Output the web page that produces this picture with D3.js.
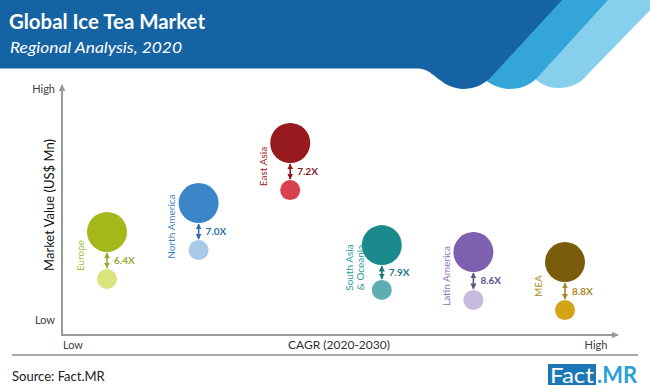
<!DOCTYPE html>
<html>
<head>
<meta charset="utf-8">
<script src="https://cdn.jsdelivr.net/npm/d3@7"></script>
<style>
  html, body { margin: 0; padding: 0; background: #fff; }
  svg { display: block; font-family: Lato, "Open Sans", sans-serif; }
</style>
</head>
<body>
<svg id="chart" width="650" height="389"></svg>
<script>
// ---------- data ----------
const regions = ["Europe", "North America", "East Asia", "South Asia & Oceania", "Latin America", "MEA"];
const regionLabelLines = [["Europe"], ["North America"], ["East Asia"], ["South Asia", "& Oceania"], ["Latin America"], ["MEA"]];
const marketIndex2030 = [41.0, 52.6, 76.7, 35.7, 32.9, 28.9];   // position on Low–High market value axis
const marketIndex2020 = [22.1, 33.7, 57.8, 17.7, 13.7, 9.6];
const growthLabels = ["6.4X", "7.0X", "7.2X", "7.9X", "8.6X", "8.8X"];
const yAxisLabels = ["Low", "High"];
const xAxisLabels = ["Low", "High"];

// ---------- styles ----------
const bigColors   = ["#a5b81b", "#3b86c9", "#971a1e", "#1a8a8c", "#7d60b0", "#7a5c0c"];
const smallColors = ["#dbe47c", "#a9c9e8", "#d9424d", "#5eadb3", "#c6badf", "#d4a416"];
const labelColors = ["#a9bb3b", "#3f82c2", "#9a1d25", "#2a9a9e", "#8a70b8", "#b08b1c"];
const growthColors= ["#9aa82e", "#2f6ea6", "#8b1a1f", "#17797f", "#5e5186", "#a8871f"];

const svg = d3.select("#chart");

// ---------- header ----------
svg.append("path")
  .attr("d", "M605,0 H660 L588,74 C580,84 570,88 558,88 C546,88 538,82 532,76 Z")
  .attr("fill", "#86d0ee");
svg.append("path")
  .attr("d", "M608,0 L537,78 C529,86 520,89 508,89 C494,88 484,80 474,70 L540,0 Z")
  .attr("fill", "#34a5d8");
svg.append("path")
  .attr("d", "M0,0 H562 L492,76 C484,85 474,89 462,89 C448,88 440,80 432,74 C427,70 423,68.5 416,68.5 H0 Z")
  .attr("fill", "#1563a3");

svg.append("text")
  .attr("x", 9).attr("y", 29)
  .attr("fill", "#fff").attr("font-weight", 700).attr("font-size", 20)
  .attr("textLength", 196).attr("lengthAdjust", "spacingAndGlyphs")
  .text("Global Ice Tea Market");
svg.append("text")
  .attr("x", 10).attr("y", 53)
  .attr("fill", "#fff").attr("font-style", "italic").attr("font-size", 16)
  .attr("textLength", 172).attr("lengthAdjust", "spacingAndGlyphs")
  .text("Regional Analysis, 2020");

// ---------- scales ----------
const x = d3.scalePoint().domain(regions).range([107, 565]);
const y = d3.scaleLinear().domain([0, 100]).range([334, 85]);

// ---------- axes ----------
const axisColor = "#9a9a9a";
const defs = svg.append("defs");
defs.append("marker").attr("id", "axArrow")
  .attr("viewBox", "0 0 10 10").attr("refX", 9).attr("refY", 5)
  .attr("markerWidth", 7).attr("markerHeight", 7).attr("markerUnits", "userSpaceOnUse")
  .attr("orient", "auto")
  .append("path").attr("d", "M0,0 L10,5 L0,10 Z").attr("fill", axisColor);

const x0 = 62, yBase = 335;
svg.append("line").attr("x1", x0).attr("y1", yBase).attr("x2", x0).attr("y2", y(100))
  .attr("stroke", axisColor).attr("stroke-width", 2).attr("marker-end", "url(#axArrow)");
svg.append("line").attr("x1", x0 - 1).attr("y1", yBase).attr("x2", 618).attr("y2", yBase)
  .attr("stroke", axisColor).attr("stroke-width", 2).attr("marker-end", "url(#axArrow)");

const yl = d3.scalePoint().domain(yAxisLabels).range([320, 89]);
svg.selectAll(".ylab").data(yAxisLabels).join("text")
  .attr("x", 55).attr("y", d => yl(d)).attr("dy", "0.35em")
  .attr("text-anchor", "end").attr("font-size", 11).attr("fill", "#404040")
  .text(d => d);
const xl = d3.scalePoint().domain(xAxisLabels).range([73, 596]);
svg.selectAll(".xlab").data(xAxisLabels).join("text")
  .attr("x", d => xl(d)).attr("y", 345).attr("dy", "0.35em")
  .attr("text-anchor", "middle").attr("font-size", 11).attr("fill", "#404040")
  .text(d => d);
svg.append("text").attr("x", 339).attr("y", 345).attr("dy", "0.35em")
  .attr("text-anchor", "middle").attr("font-size", 12).attr("fill", "#303030")
  .text("CAGR (2020-2030)");
svg.append("text")
  .attr("transform", "translate(49,205) rotate(-90)")
  .attr("text-anchor", "middle").attr("dy", "0.35em")
  .attr("font-size", 13).attr("fill", "#111")
  .text("Market Value (US$ Mn)");

// ---------- bubbles ----------
const rBig = 20, rSmall = 10;
regions.forEach((reg, i) => {
  defs.append("marker").attr("id", "arr" + i)
    .attr("viewBox", "0 0 10 10").attr("refX", 9).attr("refY", 5)
    .attr("markerWidth", 6).attr("markerHeight", 6).attr("markerUnits", "userSpaceOnUse")
    .attr("orient", "auto-start-reverse")
    .append("path").attr("d", "M0,0 L10,5 L0,10 Z").attr("fill", growthColors[i]);
});

const g = svg.append("g");
const items = regions.map((r, i) => ({
  region: r, i,
  cx: x(r), cyBig: y(marketIndex2030[i]), cySmall: y(marketIndex2020[i])
}));

g.selectAll(".big").data(items).join("circle")
  .attr("cx", d => d.cx).attr("cy", d => d.cyBig).attr("r", rBig)
  .attr("fill", d => bigColors[d.i]);
g.selectAll(".small").data(items).join("circle")
  .attr("cx", d => d.cx).attr("cy", d => d.cySmall).attr("r", rSmall)
  .attr("fill", d => smallColors[d.i]);
g.selectAll(".arrow").data(items).join("line")
  .attr("x1", d => d.cx).attr("x2", d => d.cx)
  .attr("y1", d => d.cyBig + rBig + 1).attr("y2", d => d.cySmall - rSmall - 1)
  .attr("stroke", d => growthColors[d.i]).attr("stroke-width", 1.6)
  .attr("marker-start", d => `url(#arr${d.i})`).attr("marker-end", d => `url(#arr${d.i})`);
g.selectAll(".growth").data(items).join("text")
  .attr("x", d => d.cx + 7)
  .attr("y", d => (d.cyBig + rBig + d.cySmall - rSmall) / 2).attr("dy", "0.35em")
  .attr("font-size", 10).attr("font-weight", 700)
  .attr("fill", d => growthColors[d.i])
  .text(d => growthLabels[d.i]);

const lab = g.selectAll(".rlab").data(items).join("text")
  .attr("transform", d => `translate(${d.cx - 27},${(d.cyBig + d.cySmall) / 2}) rotate(-90)`)
  .attr("text-anchor", "middle").attr("font-size", 10)
  .attr("fill", d => labelColors[d.i]);
lab.each(function(d) {
  const lines = regionLabelLines[d.i];
  const t = d3.select(this);
  lines.forEach((ln, k) => {
    t.append("tspan").attr("x", 0)
      .attr("dy", k === 0 ? (lines.length > 1 ? "-0.2em" : "0.35em") : "1.1em")
      .text(ln);
  });
});

// ---------- footer ----------
svg.append("line").attr("x1", 12).attr("x2", 638).attr("y1", 355).attr("y2", 355)
  .attr("stroke", "#555").attr("stroke-width", 1.2);
svg.append("text").attr("x", 12).attr("y", 376).attr("dy", "0.35em")
  .attr("font-size", 13).attr("fill", "#222").text("Source: Fact.MR");
svg.append("rect").attr("x", 548).attr("y", 364).attr("width", 48).attr("height", 21)
  .attr("fill", "#1b78b5");
svg.append("text").attr("x", 550).attr("y", 383)
  .attr("font-size", 22).attr("fill", "#fff")
  .attr("textLength", 44).attr("lengthAdjust", "spacingAndGlyphs")
  .text("Fact");
svg.append("text").attr("x", 597).attr("y", 383)
  .attr("font-size", 22).attr("font-weight", 700).attr("fill", "#2a9fd8")
  .attr("textLength", 40).attr("lengthAdjust", "spacingAndGlyphs")
  .text(".MR");
</script>
</body>
</html>
